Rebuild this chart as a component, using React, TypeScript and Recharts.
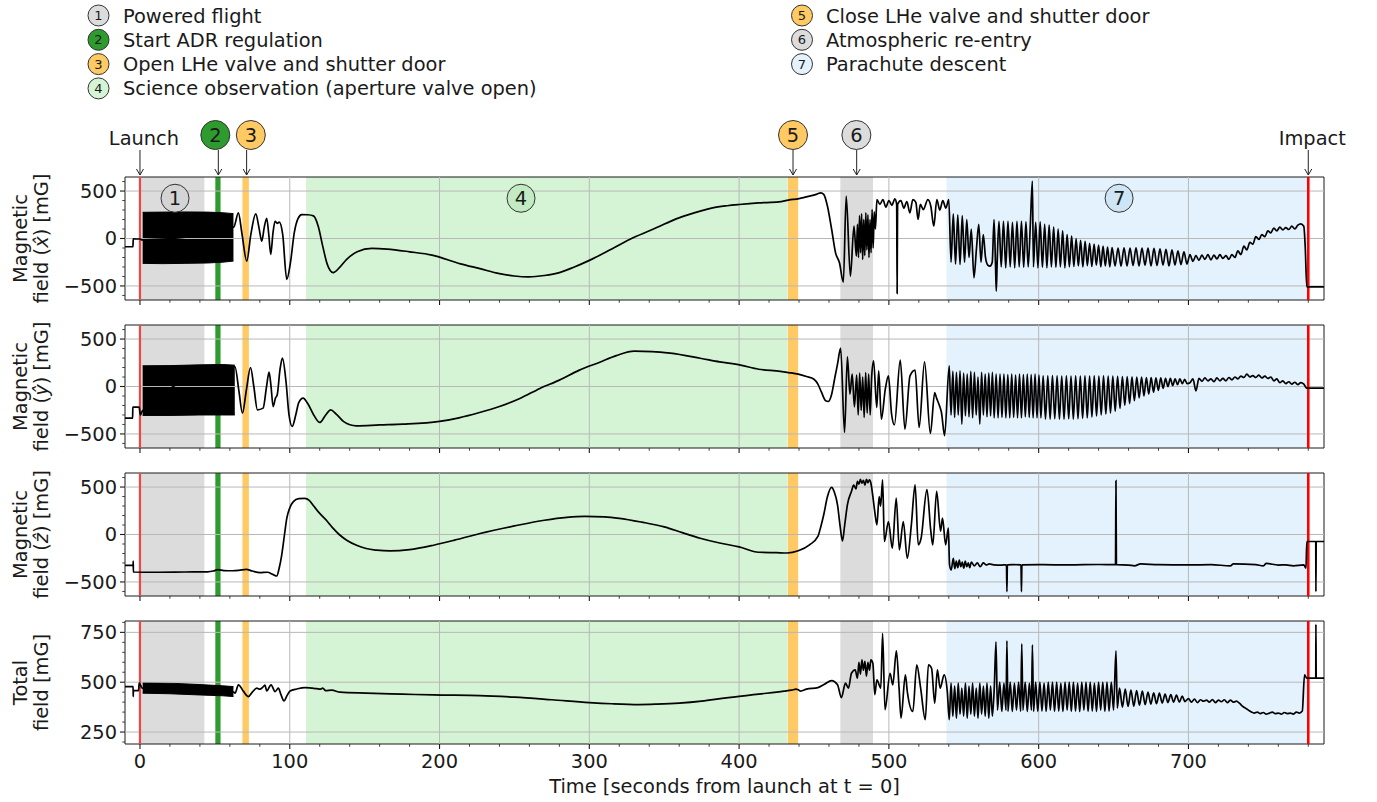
import React from 'react';
import {
  ComposedChart,
  Line,
  Area,
  XAxis,
  YAxis,
  ReferenceArea,
  ReferenceLine,
  ReferenceDot,
} from 'recharts';

type Pt = [number, number];
type Band = [number, number, number];

// hand-read samples laid on an even time grid (used for the fast oscillations)
const run = (t0: number, dt: number, values: number[]): Pt[] =>
  values.map((v, i) => [Math.round((t0 + i * dt) * 100) / 100, v]);

const T_DOMAIN: [number, number] = [-10, 790.5];
const LAUNCH_T = 0;
const IMPACT_T = 780;
const X_MAJOR = [0, 100, 200, 300, 400, 500, 600, 700];
const X_TICKS = Array.from({ length: 40 }, (_, i) => i * 20);

const PHASES = [
  { id: 1, label: 'Powered flight', from: 0, to: 43, fill: '#dcdcdc' },
  { id: 2, label: 'Start ADR regulation', from: 50.3, to: 53.8, fill: '#2e9b2e' },
  { id: 3, label: 'Open LHe valve and shutter door', from: 68.4, to: 72.7, fill: '#ffc964' },
  { id: 4, label: 'Science observation (aperture valve open)', from: 110.9, to: 432.4, fill: '#d5f4d5' },
  { id: 5, label: 'Close LHe valve and shutter door', from: 432.6, to: 439.4, fill: '#ffc964' },
  { id: 6, label: 'Atmospheric re-entry', from: 467.6, to: 489.4, fill: '#dcdcdc' },
  { id: 7, label: 'Parachute descent', from: 538.5, to: 780, fill: '#e3f2fd' },
];

// markers above the top panel: circle position and where its arrow points
const TOP_MARKERS = [
  { id: 2, circleT: 50.3, arrowT: 52.3 },
  { id: 3, circleT: 74, arrowT: 71.2 },
  { id: 5, circleT: 436, arrowT: 436 },
  { id: 6, circleT: 478.3, arrowT: 478.5 },
];
const EVENTS = [
  { text: 'Launch', t: LAUNCH_T },
  { text: 'Impact', t: IMPACT_T },
];
const IN_PLOT_MARKERS = [
  { id: 1, t: 23.4, fill: '#d4d4d4' },
  { id: 4, t: 254.4, fill: '#c3ebc3' },
  { id: 7, t: 653.7, fill: '#cde5f5' },
];

// ---- magnetic field x-hat [mG] ----
const FIELD_X_BLOCK: Band[] = [
  [1.8, -262, 276], [15, -265, 278], [30, -262, 280], [45, -258, 278], [55, -250, 272], [62.4, -238, 262],
];
const FIELD_X: Pt[] = [
  [-10, -87], [-4.7, -87], [-4.5, -5], [0, -5], [1.5, -15],
  [62.6, 120], [65.7, 269], [68, 60], [71.3, -238], [74, 40], [77.3, 259], [79.5, 110], [81.3, -28],
  [83, 120], [84.6, 213], [86, 40], [87.3, -168], [88.8, 60], [90.2, 181], [91.6, 160], [93, 172],
  [95.3, 40], [98, -430], [100.5, -250], [103, 60], [105.5, 210], [108, 252], [112, 250], [115.8, 238],
  [119, 130], [122, -80], [125, -270], [129, -360], [133, -310], [138, -220], [145, -140], [154.8, -105],
  [165, -112], [180, -140], [195, -175], [214, -267], [227, -318], [240, -370], [250, -395], [259.5, -404],
  [270, -390], [280, -360], [290, -300], [300.4, -228], [315, -110], [329.2, 7], [345, 115], [358, 207],
  [370, 270], [382.3, 323], [392, 345], [400, 358], [413, 375], [426.5, 386], [433, 405], [440, 420],
  [447, 446], [452, 468], [454.5, 481], [456.5, 465], [459, 340], [461.8, 95], [464.4, -151], [467, -256],
  [469.6, -460], [471.5, 446], [474.3, -397], [476.7, 130], [478.3, -186],
  ...run(479, 0.7, [150, -200, 240, -150, 260, -221, 200, -180, 270, -120, 250, -200, 200, -150, 305, -100, 280]),
  [491, 100], [492, 410], [494, 360], [496, 410], [498, 330], [500, 400], [502, 350], [504, 418],
  [505.2, 360], [505.5, -579], [505.8, 360], [508, 400], [510, 320], [512, 390], [514, 270], [516, 410],
  [518, 380], [519.5, 200], [521, 360], [523, 305], [526, 410], [528, 340], [530, 130], [532, 410],
  [534, 300], [536, 400], [538, 320], [540, 410],
  ...run(541.5, 1.5, [-250, 260, -270, 250, -274, 240, -250, 200, -200, 100]),
  [556.8, -414], [558.5, -100], [560, 150], [561.5, -250], [563, 40], [564.5, -200], [566, -280],
  [567.5, -291], [569, -250], [570.2, 200], [571.2, -280], [571.7, -554], [572.3, -250], [573.5, 180],
  ...run(575, 1.5, [-300, 182, -309, 182, -300, 170, -309, 180, -300, 182, -305, 175, -300, 170]),
  [595.8, 604],
  ...run(596.5, 1.5, [-300, 170, -309, 175, -305, 150, -309, 140, -300, 120, -305, 100, -300, 80, -309, 40,
    -300, 25, -295, 0, -290, -20, -300, -30, -285, -50, -295, -60, -280, -70, -300, -80, -290, -90, -300]),
  ...run(649, 2, [-95, -290, -100, -291, -98, -290, -100, -285, -98, -290, -100, -280, -100, -290, -105,
    -285, -110, -280, -115, -290, -120, -280, -130, -275, -140, -270]),
  ...run(701, 2, [-170, -240, -180, -230, -175, -220, -170, -225, -175, -215, -170, -210, -180, -220, -170,
    -200, -130, -170, -80, -120, -40, -60, 20, -10, 40, 20, 80, 60, 110, 80, 120, 90, 115, 95, 130, 100, 140,
    154, 130]),
  [778, -100], [779, -509], [790.5, -509],
];

// ---- magnetic field y-hat [mG] ----
const FIELD_Y_BLOCK: Band[] = [
  [1.8, -305, 218], [20, -305, 220], [40, -300, 228], [55, -300, 232], [63.3, -300, 225],
];
const FIELD_Y: Pt[] = [
  [-10, -333], [-4.9, -333], [-4.8, -218], [-0.6, -218], [0.3, -300], [1.5, -260],
  [63.4, 210], [66, -40], [68.4, -281], [71, -40], [73.8, 200], [76, 0], [78.4, -246], [82.2, -228],
  [84.5, 0], [86.2, 151], [87.5, 0], [88.9, -211], [90.5, -120], [91.6, -90], [93.5, 180], [95.1, 298],
  [97.5, 50], [99.5, -300], [101.6, -421], [104, -300], [106, -170], [108.9, -123], [112, -180],
  [116, -300], [120, -379], [124, -300], [127.3, -246], [131, -290], [136, -370], [144.4, -414],
  [160, -405], [175.6, -397], [200, -368], [213, -330], [226.7, -274], [240, -210], [254, -123],
  [267, -20], [280, 67], [293, 170], [307, 256], [318, 325], [330, 372], [342, 368], [354, 351],
  [374, 298], [387, 260], [401, 225], [413, 182], [427.5, 160], [433, 147], [439.5, 130], [445, 105],
  [450, 77], [452.6, 25], [455, -60], [457.8, -151], [459.5, -158], [461.8, -81], [464, 100],
  [465.7, 235], [467.8, 404], [470.4, -484], [472.3, 312], [474, -81], [475.5, 130], [477, -214],
  [478.5, 120],
  ...run(479.5, 1, [-300, 140, -250, 100, -326, 147, -280, 130, -300, 100]),
  [489.8, 270], [491.9, -221], [493.2, 165], [495, -344], [497.6, -28], [499.7, 112], [501.8, -291],
  [503.7, -404], [507.6, 277], [510.7, -449], [514.1, 112], [517.5, 172], [520.2, -432], [523.8, 260],
  [527.7, -495], [530.6, -63], [531.7, -116], [533.8, -204], [535.1, -274], [537.2, -519], [540.3, 218],
  ...run(541.5, 1.2, [-300, 160, -326, 150, -300, 165, -397, 140, -310, 130, -320, 160, -330, 150, -300,
    100, -397, 150, -300, 130, -320, 140, -310, 150, -330]),
  ...run(571.6, 1.3, [130, -330, 130, -326, 130, -330, 125, -330, 130, -326, 120, -330, 130, -330, 125,
    -320, 130, -326, 125, -330, 130, -330, 120, -330]),
  ...run(603, 1.55, [112, -344, 112, -344, 115, -340, 112, -344, 110, -344, 112, -340, 110, -344, 112,
    -340, 110, -335, 112, -330, 110, -320, 112, -310, 110, -300, 112, -290, 110, -280]),
  ...run(649.5, 1.6, [110, -260, 108, -230, 105, -200, 105, -180, 102, -150, 100, -120, 100, -100, 95,
    -80, 95, -60, 90, -40, 90, -20, 85, 0, 85, 10, 80, 20, 80, 30, 75, 30]),
  ...run(701, 2, [40, 80, -46, 85, 55, 90, 60, 80, 50, 90, 60, 85, 60, 95, 70, 100, 80, 110, 95, 130, 100,
    115, 95, 120, 90, 110, 85, 100, 60, 80, 40, 60, 30, 50, 25, 45, 20, 40, 25]),
  [778, 0], [779, -18], [790.5, -18],
];

// ---- magnetic field z-hat [mG] ----
const FIELD_Z: Pt[] = [
  [-10, -325], [-4.6, -325], [-4.5, -280], [-4.4, -395], [10, -398], [30, -395], [45, -393], [49, -385],
  [52, -370], [56, -380], [62, -382], [66, -378], [71, -368], [75, -385], [80, -402], [85, -398],
  [89, -423], [91.3, -437], [93, -350], [94.6, -219], [96.5, 0], [98, 169], [100, 280], [102.4, 346],
  [106, 378], [110, 381], [113, 360], [116, 300], [120, 222], [125, 140], [129, 64], [133, 0], [138, -60],
  [145, -115], [151, -148], [158, -165], [167, -173], [180, -160], [196, -113], [210, -60], [227, 11],
  [250, 90], [270, 150], [285, 180], [297, 190], [310, 185], [320, 170], [335, 130], [350, 80], [362, 20],
  [374, -39], [387, -90], [400, -130], [413, -187], [425, -192], [432, -195], [439.5, -172], [447, -109],
  [452.6, -21], [454.5, 80], [456.5, 208], [459, 400], [461.8, 496], [463.5, 450], [465.7, 313],
  [467.5, 80], [469, -67], [470.5, 100], [472.3, 313], [475, 454], [476.5, 520], [478, 480], [479, 560],
  [480, 530], [481, 580], [482, 540], [483, 570], [484, 520], [485, 580], [486, 545], [487, 577],
  [488, 540], [489.3, 401], [490.5, 250], [492, 102], [493.5, 400], [494.5, 300], [495.8, 577],
  [497, -74], [499.7, 137], [502.3, -144], [504.9, 384], [507, -162], [509.6, 137], [512.3, -250],
  [515, 102], [517.5, 524], [519.6, -109], [521.5, -39], [525.4, 472], [528, 35], [529.3, -109],
  [531.9, 454], [534.5, 35], [535.8, 172], [537.9, -109], [539.7, 67], [540.5, -320], [541.6, -373],
  ...run(543, 1, [-250, -360, -280, -350, -270, -340, -290, -355, -280, -340, -300, -350, -290]),
  [557, -330], [559, -300], [561, -340], [563, -300], [565, -320], [567, -310], [570, -320], [575, -322],
  [578.5, -320], [578.8, -602], [579.1, -320], [583, -318], [588.2, -320], [588.5, -602], [588.8, -320],
  [600, -318], [620, -320], [640, -316], [651.3, -318], [651.6, 567], [651.9, -318], [660, -322],
  [664, -330], [668, -310], [680, -318], [700, -320], [715, -318], [728, -330], [730, -310], [745, -318],
  [750, -330], [752, -305], [760, -322], [765, -320], [770, -330], [777, -320], [778.5, -355], [779, -74],
  [785, -74], [785.1, -602], [785.3, -74], [790.5, -74],
];

// ---- total field [mG] ----
const FIELD_TOTAL_BLOCK: Band[] = [
  [1.8, 445, 498], [20, 442, 495], [40, 436, 488], [55, 432, 482], [62.4, 428, 478],
];
const FIELD_TOTAL: Pt[] = [
  [-10, 478], [-4.6, 478], [-4.5, 428], [-4.4, 458], [-1, 458], [-0.5, 495], [1.5, 470],
  [62.6, 450], [63.5, 445], [65.7, 487], [69, 455], [72.4, 428], [75, 450], [78, 470], [80, 465],
  [82.4, 478], [83.5, 485], [84.6, 456], [87.5, 487], [90.2, 453], [92.4, 470], [94, 440], [96.2, 406],
  [98, 430], [100.2, 456], [104.7, 466], [110.2, 473], [115, 470], [118, 468], [120.3, 465], [122, 470],
  [124, 458], [128, 460], [133.6, 450], [151, 445], [175, 440], [196, 436], [227, 433], [250, 425],
  [275, 412], [300, 398], [315, 392], [333, 388], [345, 390], [360, 395], [375, 405], [390, 420],
  [413, 440], [430, 455], [435, 460], [438, 465], [439.5, 462], [441, 455], [445, 465], [452.6, 473],
  [457, 490], [461.8, 508], [465.7, 487], [468.3, 423], [471, 495], [473, 470], [475, 545], [477.5, 562],
  [479, 520], [480, 600], [481, 540], [482, 612], [483, 560], [484, 605], [485, 530], [486, 600],
  [487, 560], [488, 612], [489.3, 595], [490.6, 437], [492, 512], [494.6, 470], [495.8, 745],
  [497.4, 362], [500.8, 545], [502.6, 487], [505, 657], [506.8, 470], [508.1, 320], [511, 537],
  [512.3, 453], [516, 353], [518.6, 587], [521.2, 470], [524.3, 312], [526.4, 587], [528.5, 570],
  [530.6, 395], [532.4, 562], [534.2, 470], [536.9, 537], [539, 453], [540.3, 312],
  ...run(541.5, 1.2, [495, 330, 480, 320, 495, 340, 470, 330, 495, 320, 480, 340, 495, 330, 470, 320, 495,
    340, 480, 330, 495, 320, 480, 330]),
  [570.4, 480], [571.5, 703], [572.5, 360], [574, 500], [575.4, 353], [576.8, 495], [578.2, 360],
  [578.8, 707], [579.5, 353], [581, 500], [582.4, 353], [583.8, 495], [585.2, 360], [586.6, 500],
  [588, 353], [588.7, 692], [589.5, 360], [591, 500], [592.4, 353], [593.8, 495], [595.2, 360],
  [595.8, 687], [596.6, 353],
  ...run(598, 1.4, [500, 353, 500, 355, 495, 353, 500, 360, 500, 353, 500, 355, 495, 353, 500, 360, 500,
    353, 500, 355, 495, 353, 500, 360, 500, 353, 500, 355, 495, 353, 500, 360, 500, 353, 500, 355]),
  [648.5, 500], [650, 360], [651.6, 657], [652.5, 370],
  ...run(654, 1.9, [470, 375, 465, 378, 460, 380, 458, 385, 455, 388, 450, 390, 447, 392, 445, 395, 440,
    398, 438, 400, 435, 400, 430, 403]),
  ...run(700, 2, [418, 400, 415, 398, 412, 405, 410, 400, 413, 398, 410, 402, 412, 398, 410, 400, 405,
    395, 380, 370, 360, 350, 345, 350, 342, 348, 340, 345, 350, 342, 345, 340, 348, 342, 345, 340, 350,
    345, 355]),
  [777.5, 537], [779, 520], [785, 520], [785.1, 790], [785.3, 520], [790.5, 520],
];

const AXIS_XYZ = {
  domain: [-648, 648] as [number, number],
  majors: [-500, 0, 500],
  ticks: [-600, -500, -400, -300, -200, -100, 0, 100, 200, 300, 400, 500, 600],
};
const AXIS_TOTAL = {
  domain: [190, 807] as [number, number],
  majors: [250, 500, 750],
  ticks: [200, 250, 300, 350, 400, 450, 500, 550, 600, 650, 700, 750, 800],
};

const PANELS = [
  { key: 'x', hat: 'x\u0302', points: FIELD_X, block: FIELD_X_BLOCK, axis: AXIS_XYZ },
  { key: 'y', hat: 'y\u0302', points: FIELD_Y, block: FIELD_Y_BLOCK, axis: AXIS_XYZ },
  { key: 'z', hat: 'z\u0302', points: FIELD_Z, block: [] as Band[], axis: AXIS_XYZ },
  { key: 'total', hat: '', points: FIELD_TOTAL, block: FIELD_TOTAL_BLOCK, axis: AXIS_TOTAL },
];

const W = 1377;
const PLOT_TOPS = [177, 325, 473, 621];
const PLOT_H = 123;
const FONT = "'DejaVu Sans', 'Liberation Sans', sans-serif";
const FS = 19.4;
const INK = '#1a1a1a';
const GRID = '#b8b8b8';

const fmt = (v: number) => (v < 0 ? `\u2212${-v}` : `${v}`);

function XTick(props: any) {
  const { x, y, payload, showLabels } = props;
  const v = payload.value;
  const major = X_MAJOR.includes(v);
  return (
    <g>
      <line x1={x} x2={x} y1={y} y2={y + (major ? 5 : 2.8)} stroke={INK} strokeWidth={major ? 1.1 : 0.8} />
      {major && showLabels && (
        <text x={x} y={y + 24} textAnchor="middle" fontSize={FS} fill={INK}>
          {v}
        </text>
      )}
    </g>
  );
}

function YTick(props: any) {
  const { x, y, payload, majors } = props;
  const v = payload.value;
  const major = majors.includes(v);
  return (
    <g>
      <line x1={x - (major ? 5 : 2.8)} x2={x} y1={y} y2={y} stroke={INK} strokeWidth={major ? 1.1 : 0.8} />
      {major && (
        <text x={x - 8} y={y} dy="0.36em" textAnchor="end" fontSize={FS} fill={INK}>
          {fmt(v)}
        </text>
      )}
    </g>
  );
}

function Badge({ cx, cy, r, fill, n, size }: any) {
  return (
    <g>
      <circle cx={cx} cy={cy} r={r} fill={fill} stroke="#333" strokeWidth={1} />
      <text x={cx} y={cy} dy="0.36em" textAnchor="middle" fontSize={size} fill={INK}>
        {n}
      </text>
    </g>
  );
}

function DownArrow({ x, y }: any) {
  // y is the top edge of the plot; the arrow stops just above it
  return (
    <g stroke="#222" strokeWidth={1} fill="none">
      <line x1={x} x2={x} y1={y - 27} y2={y - 2} />
      <polyline points={`${x - 3.5},${y - 8} ${x},${y - 2} ${x + 3.5},${y - 8}`} />
    </g>
  );
}

function Panel({ index }: { index: number }) {
  const cfg = PANELS[index];
  const first = index === 0;
  const last = index === PANELS.length - 1;
  const marginTop = first ? PLOT_TOPS[0] : 10;
  const xAxisHeight = last ? 58 : 10;
  const height = marginTop + PLOT_H + xAxisHeight;
  const top = first ? 0 : PLOT_TOPS[index] - 10;
  const [yMin, yMax] = cfg.axis.domain;
  const lineRows = cfg.points.map(([t, v]) => ({ t, v }));
  const blockRows = cfg.block.map(([t, lo, hi]) => ({ t, range: [lo, hi] }));
  const phaseFill = (id: number) => PHASES.find((p) => p.id === id)!.fill;

  return (
    <div style={{ position: 'absolute', left: 0, top }}>
      <ComposedChart width={W} height={height} margin={{ top: marginTop, right: 53, bottom: 0, left: 65 }}>
        <XAxis
          type="number"
          dataKey="t"
          domain={T_DOMAIN}
          allowDataOverflow
          ticks={X_TICKS}
          interval={0}
          tickLine={false}
          axisLine={false}
          tickSize={0}
          tickMargin={0}
          height={xAxisHeight}
          tick={(p: any) => <XTick {...p} showLabels={last} />}
        />
        <YAxis
          type="number"
          domain={cfg.axis.domain}
          allowDataOverflow
          ticks={cfg.axis.ticks}
          interval={0}
          tickLine={false}
          axisLine={false}
          tickSize={0}
          tickMargin={0}
          width={60}
          tick={(p: any) => <YTick {...p} majors={cfg.axis.majors} />}
        />
        {PHASES.map((ph) => (
          <ReferenceArea
            key={`ph-${ph.id}`}
            x1={ph.from}
            x2={ph.to}
            y1={yMin}
            y2={yMax}
            fill={ph.fill}
            fillOpacity={1}
            stroke="none"
            ifOverflow="visible"
          />
        ))}
        {X_MAJOR.map((t) => (
          <ReferenceLine key={`gx-${t}`} x={t} stroke={GRID} strokeWidth={1} />
        ))}
        {cfg.axis.majors.map((v) => (
          <ReferenceLine key={`gy-${v}`} y={v} stroke={GRID} strokeWidth={1} />
        ))}
        <ReferenceLine x={LAUNCH_T} stroke="#ee4646" strokeWidth={2.2} />
        <ReferenceLine x={IMPACT_T} stroke="#ff0000" strokeWidth={2.6} />
        {blockRows.length > 0 && (
          <Area
            data={blockRows}
            dataKey="range"
            type="linear"
            stroke="#000"
            strokeWidth={1}
            fill="#000"
            fillOpacity={1}
            dot={false}
            activeDot={false}
            isAnimationActive={false}
          />
        )}
        <Line
          data={lineRows}
          dataKey="v"
          type="monotoneX"
          stroke="#000"
          strokeWidth={1.7}
          dot={false}
          activeDot={false}
          isAnimationActive={false}
        />
        <ReferenceArea
          x1={T_DOMAIN[0]}
          x2={T_DOMAIN[1]}
          y1={yMin}
          y2={yMax}
          fill="none"
          stroke={INK}
          strokeWidth={1}
          ifOverflow="visible"
        />
        {first &&
          TOP_MARKERS.map((m) => (
            <ReferenceDot
              key={`arrow-${m.id}`}
              x={m.arrowT}
              y={yMax}
              r={0}
              ifOverflow="visible"
              shape={(p: any) => <DownArrow x={p.cx} y={p.cy} />}
            />
          ))}
        {first &&
          TOP_MARKERS.map((m) => (
            <ReferenceDot
              key={`badge-${m.id}`}
              x={m.circleT}
              y={yMax}
              r={0}
              ifOverflow="visible"
              shape={(p: any) => <Badge cx={p.cx} cy={p.cy - 42} r={14.5} fill={phaseFill(m.id)} n={m.id} size={FS} />}
            />
          ))}
        {first &&
          EVENTS.map((e) => (
            <ReferenceDot
              key={`event-${e.text}`}
              x={e.t}
              y={yMax}
              r={0}
              ifOverflow="visible"
              shape={(p: any) => (
                <g>
                  <text x={p.cx + 4} y={p.cy - 32} textAnchor="middle" fontSize={FS} fill={INK}>
                    {e.text}
                  </text>
                  <DownArrow x={p.cx} y={p.cy} />
                </g>
              )}
            />
          ))}
        {first &&
          IN_PLOT_MARKERS.map((m) => (
            <ReferenceDot
              key={`inplot-${m.id}`}
              x={m.t}
              y={424}
              r={0}
              ifOverflow="visible"
              shape={(p: any) => <Badge cx={p.cx} cy={p.cy} r={14} fill={m.fill} n={m.id} size={FS} />}
            />
          ))}
      </ComposedChart>
    </div>
  );
}

function Overlay() {
  const left = PHASES.slice(0, 4);
  const right = PHASES.slice(4);
  const rowY = (i: number) => 15.5 + i * 24.3;
  return (
    <svg width={W} height={802} style={{ position: 'absolute', left: 0, top: 0, pointerEvents: 'none' }}>
      {left.map((ph, i) => (
        <g key={`lg-${ph.id}`}>
          <Badge cx={98.5} cy={rowY(i)} r={10.5} fill={ph.fill} n={ph.id} size={13} />
          <text x={123} y={rowY(i) + 7} fontSize={FS} fill={INK}>
            {ph.label}
          </text>
        </g>
      ))}
      {right.map((ph, i) => (
        <g key={`lg-${ph.id}`}>
          <Badge cx={802} cy={rowY(i)} r={10.5} fill={ph.fill} n={ph.id} size={13} />
          <text x={826} y={rowY(i) + 7} fontSize={FS} fill={INK}>
            {ph.label}
          </text>
        </g>
      ))}
      {PANELS.map((cfg, i) => {
        const cy = PLOT_TOPS[i] + PLOT_H / 2;
        const line1 = cfg.hat ? 'Magnetic' : 'Total';
        return (
          <g key={`yl-${cfg.key}`} transform={`translate(0, ${cy}) rotate(-90)`}>
            <text x={0} y={27} textAnchor="middle" fontSize={FS} fill={INK}>
              {line1}
            </text>
            {cfg.hat ? (
              <text x={0} y={48} textAnchor="middle" fontSize={FS} fill={INK}>
                {'field ('}
                <tspan fontStyle="italic">{cfg.hat}</tspan>
                {') [mG]'}
              </text>
            ) : (
              <text x={0} y={48} textAnchor="middle" fontSize={FS} fill={INK}>
                field [mG]
              </text>
            )}
          </g>
        );
      })}
      <text x={724.5} y={793} textAnchor="middle" fontSize={FS} fill={INK}>
        Time [seconds from launch at t = 0]
      </text>
    </svg>
  );
}

export default function App() {
  return (
    <div style={{ position: 'absolute', left: 0, top: 0, width: W, height: 802, background: '#fff', fontFamily: FONT }}>
      {PANELS.map((cfg, i) => (
        <Panel key={cfg.key} index={i} />
      ))}
      <Overlay />
    </div>
  );
}
